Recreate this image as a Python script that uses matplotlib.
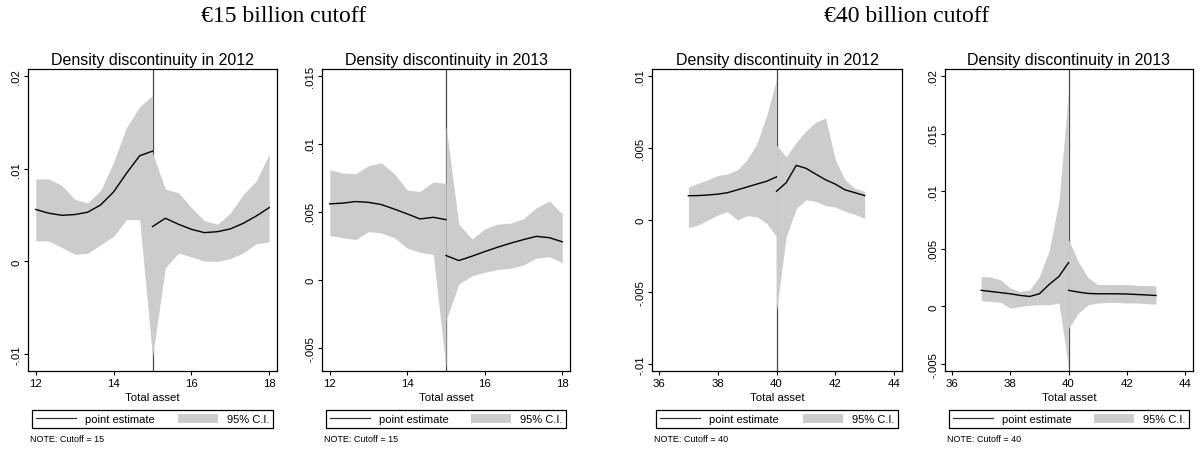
import matplotlib
matplotlib.use("Agg")
import matplotlib.pyplot as plt
from matplotlib.lines import Line2D
from matplotlib.patches import Patch

plt.rcParams['font.family'] = ['Liberation Sans', 'DejaVu Sans']

# total asset grid (EUR billion) on each side of the cutoffs
x15_left = [12.0, 12.33, 12.67, 13.0, 13.33, 13.67, 14.0, 14.33, 14.67, 15.0]
x15_right = [15.0, 15.33, 15.67, 16.0, 16.33, 16.67, 17.0, 17.33, 17.67, 18.0]
x40_left = [37.0, 37.33, 37.67, 38.0, 38.33, 38.67, 39.0, 39.33, 39.67, 40.0]
x40_right = [40.0, 40.33, 40.67, 41.0, 41.33, 41.67, 42.0, 42.33, 42.67, 43.0]

# 15bn cutoff, 2012
est_a_left = [0.0056, 0.0052, 0.00497, 0.00505, 0.0053, 0.0061, 0.0075, 0.0095, 0.0114, 0.0119]
est_a_right = [0.00375, 0.00465, 0.0040, 0.00346, 0.0031, 0.0032, 0.0035, 0.0041, 0.0049, 0.0058]
lb_a_left = [0.0022, 0.0022, 0.0015, 0.00076, 0.00086, 0.0018, 0.0027, 0.0045, 0.0045, -0.0103]
lb_a_right = [-0.0103, -0.0007, 0.0009, 0.00047, 0.00003, 0.0, 0.0003, 0.0009, 0.0019, 0.0021]
ub_a_left = [0.0089, 0.0089, 0.0082, 0.0067, 0.0063, 0.0077, 0.0107, 0.01445, 0.0167, 0.0179]
ub_a_right = [0.0117, 0.0078, 0.0074, 0.0058, 0.0044, 0.0040, 0.0052, 0.0072, 0.0087, 0.0116]

# 15bn cutoff, 2013
est_b_left = [0.00559, 0.00564, 0.00576, 0.0057, 0.00554, 0.0052, 0.00485, 0.00448, 0.0046, 0.00443]
est_b_right = [0.00179, 0.00142, 0.00174, 0.00208, 0.0024, 0.0027, 0.00296, 0.0032, 0.0031, 0.0028]
lb_b_left = [0.00326, 0.0031, 0.00296, 0.00355, 0.00345, 0.0031, 0.00233, 0.00203, 0.00186, -0.0065]
lb_b_right = [-0.003, -0.0003, 0.0003, 0.00056, 0.00076, 0.00086, 0.0011, 0.0016, 0.0017, 0.00125]
ub_b_left = [0.0081, 0.00786, 0.0078, 0.0084, 0.0086, 0.0078, 0.0066, 0.0065, 0.0072, 0.0071]
ub_b_right = [0.0113, 0.0041, 0.0030, 0.00375, 0.0041, 0.00417, 0.0045, 0.0053, 0.0058, 0.00485]

# 40bn cutoff, 2012
est_c_left = [0.00169, 0.0017, 0.00174, 0.0018, 0.0019, 0.0021, 0.0023, 0.0025, 0.0027, 0.0030]
est_c_right = [0.0020, 0.0026, 0.0038, 0.0036, 0.0032, 0.0028, 0.0025, 0.0021, 0.0019, 0.0017]
lb_c_left = [-0.00053, -0.00035, 0.0, 0.00035, 0.00058, 0.0, 0.0003, 0.00023, -0.00023, -0.00116]
lb_c_right = [-0.0063, -0.00116, 0.0008, 0.0014, 0.0013, 0.001, 0.0009, 0.0006, 0.0004, 0.0001]
ub_c_left = [0.0023, 0.00255, 0.0028, 0.0031, 0.0032, 0.0035, 0.0042, 0.0053, 0.0073, 0.0098]
ub_c_right = [0.0052, 0.0044, 0.0054, 0.0062, 0.0068, 0.0071, 0.0042, 0.0028, 0.0022, 0.0020]

# 40bn cutoff, 2013
est_d_left = [0.0014, 0.0013, 0.0012, 0.0011, 0.00096, 0.00087, 0.0011, 0.0019, 0.0026, 0.0038]
est_d_right = [0.0014, 0.00125, 0.00113, 0.0011, 0.0011, 0.0011, 0.00108, 0.00104, 0.0010, 0.00095]
lb_d_left = [0.0005, 0.00044, 0.00035, -0.00015, 0.0, 0.0001, 0.00015, 0.00015, 0.0003, -0.0053]
lb_d_right = [-0.0019, -0.0006, 0.00015, 0.0003, 0.00035, 0.00035, 0.0003, 0.0003, 0.00025, 0.0002]
ub_d_left = [0.0026, 0.00255, 0.0023, 0.0016, 0.0013, 0.00145, 0.0026, 0.0048, 0.0091, 0.0187]
ub_d_right = [0.0058, 0.0039, 0.0025, 0.0019, 0.0019, 0.0019, 0.0019, 0.00185, 0.0018, 0.0018]

titles = ['Density discontinuity in 2012', 'Density discontinuity in 2013',
          'Density discontinuity in 2012', 'Density discontinuity in 2013']
group_titles = ['\u20ac15 billion cutoff', '\u20ac40 billion cutoff']

fill_col = '#cccccc'

panels = [
    dict(rect=[0.0234, 0.177, 0.2078, 0.668], xl=x15_left, xr=x15_right, cut=15,
         est=(est_a_left, est_a_right), lb=(lb_a_left, lb_a_right), ub=(ub_a_left, ub_a_right),
         xlim=(11.8, 18.2), xticks=[12, 14, 16, 18],
         ylim=(-0.01184, 0.02076), yticks=[-0.01, 0, 0.01, 0.02]),
    dict(rect=[0.2688, 0.177, 0.2070, 0.668], xl=x15_left, xr=x15_right, cut=15,
         est=(est_b_left, est_b_right), lb=(lb_b_left, lb_b_right), ub=(ub_b_left, ub_b_right),
         xlim=(11.8, 18.2), xticks=[12, 14, 16, 18],
         ylim=(-0.0067, 0.0155), yticks=[-0.005, 0, 0.005, 0.01, 0.015]),
    dict(rect=[0.5442, 0.177, 0.2087, 0.668], xl=x40_left, xr=x40_right, cut=40,
         est=(est_c_left, est_c_right), lb=(lb_c_left, lb_c_right), ub=(ub_c_left, ub_c_right),
         xlim=(35.76, 44.27), xticks=[36, 38, 40, 42, 44],
         ylim=(-0.0105, 0.0105), yticks=[-0.01, -0.005, 0, 0.005, 0.01]),
    dict(rect=[0.7888, 0.177, 0.2070, 0.668], xl=x40_left, xr=x40_right, cut=40,
         est=(est_d_left, est_d_right), lb=(lb_d_left, lb_d_right), ub=(ub_d_left, ub_d_right),
         xlim=(35.76, 44.27), xticks=[36, 38, 40, 42, 44],
         ylim=(-0.0056, 0.0206), yticks=[-0.005, 0, 0.005, 0.01, 0.015, 0.02]),
]


def stata_fmt(v):
    s = '%g' % v
    return s.replace('0.', '.') if s != '0' else s


fig = plt.figure(figsize=(11.98, 4.52), dpi=100)

for p, title in zip(panels, titles):
    ax = fig.add_axes(p['rect'])
    ax.axvline(p['cut'], color='#4d4d4d', lw=0.9, zorder=1)
    ax.fill_between(p['xl'], p['lb'][0], p['ub'][0], color=fill_col, lw=0, zorder=2)
    ax.fill_between(p['xr'], p['lb'][1], p['ub'][1], color=fill_col, lw=0, zorder=2)
    ax.plot(p['xl'], p['est'][0], color='black', lw=1, zorder=3)
    ax.plot(p['xr'], p['est'][1], color='black', lw=1, zorder=3)

    ax.set_xlim(p['xlim'])
    ax.set_ylim(p['ylim'])
    ax.set_xticks(p['xticks'])
    ax.set_xticklabels([str(t) for t in p['xticks']])
    ax.set_yticks(p['yticks'])
    ax.set_yticklabels([stata_fmt(t) for t in p['yticks']], rotation=90, va='center')
    ax.tick_params(direction='out', length=3, width=0.8, labelsize=8.2, pad=2)
    for sp in ax.spines.values():
        sp.set_linewidth(0.9)
    ax.set_xlabel('Total asset', fontsize=8.2, labelpad=3)
    ax.set_title(title, fontsize=11.5, pad=4)

    handles = [Line2D([], [], color='#333333', lw=0.9), Patch(facecolor=fill_col, edgecolor='none')]
    leg = ax.legend(handles, ['point estimate', '95% C.I.'], loc='upper left',
                    bbox_to_anchor=(0.016, -0.195, 0.968, 0.066), mode='expand', ncol=2,
                    fontsize=8, frameon=True, fancybox=False, edgecolor='black', framealpha=1,
                    borderaxespad=0, borderpad=0.35, handlelength=3.6, handleheight=0.9,
                    handletextpad=0.8)
    leg.get_frame().set_linewidth(0.9)
    ax.text(0.008, -0.225, 'NOTE: Cutoff = %d' % p['cut'], transform=ax.transAxes,
            fontsize=6.5, va='center', ha='left')

fig.text(284 / 1198, 1 - 17 / 452, group_titles[0], ha='center', va='center',
         family='Liberation Serif', fontsize=17)
fig.text(907 / 1198, 1 - 17 / 452, group_titles[1], ha='center', va='center',
         family='Liberation Serif', fontsize=17)

fig.savefig('out.png', dpi=100)
